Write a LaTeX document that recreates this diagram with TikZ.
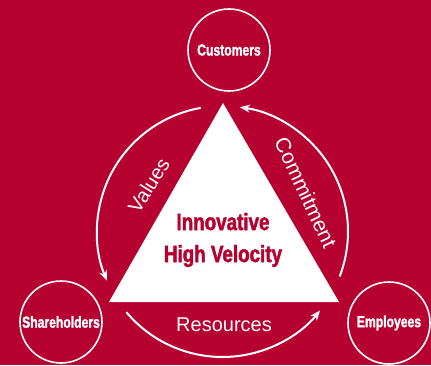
\documentclass[tikz,border=0pt]{standalone}
\usepackage{fontspec}
\setmainfont{Liberation Sans}
\newfontfamily\condfont[FakeStretch=0.76,FakeBold=1.5]{Liberation Sans Bold}
\newfontfamily\corefont[FakeStretch=0.8,FakeBold=2]{Liberation Sans Bold}
\usetikzlibrary{arrows.meta,calc}
\definecolor{crimson}{HTML}{B50030}
\tikzset{
  party/.style={draw=white, line width=1.6pt, circle, minimum size=82pt, inner sep=0pt,
    text=white, font=\condfont\fontsize{16}{18}\selectfont},
  flow/.style={white, line width=2pt, -{Stealth[length=10pt,width=8pt]}},
  flowlabel/.style={text=white, font=\fontsize{20}{22}\selectfont, inner sep=0pt}
}
\begin{document}
\begin{tikzpicture}[x=1pt,y=1pt]
% Fondo
\fill[crimson] (0,0) rectangle (431,365);
\useasboundingbox (0,0) rectangle (431,365);
% Triangulo
\fill[white] (223,262) -- (339,63) -- (109,63) -- cycle;
\node[text=crimson, font=\corefont\fontsize{23.5}{32}\selectfont, align=center] (core) at (223,125)
  {Innovative\\High Velocity};
% Grupos
\node[party] (customers) at (229,315) {Customers};
\node[party] (shareholders) at (61,43) {Shareholders};
\node[party] (employees) at (389,42) {Employees};
% Flechas circulares
\coordinate (hub) at (222.5,133.5);
\draw[flow] (hub) ++(100:125.5) arc[start angle=100, end angle=203, radius=125.5];
\draw[flow] (hub) ++(-21:125.5) arc[start angle=-21, end angle=82, radius=125.5];
\draw[flow] (hub) ++(220:125.5) arc[start angle=220, end angle=321, radius=125.5];
% Etiquetas
\node[flowlabel, rotate=58] (values) at ($(hub)+(148:87)$) {Values};
\node[flowlabel, rotate=-65, font=\fontsize{21}{23}\selectfont] (commitment) at ($(hub)+(25:92)$) {Commitment};
\node[flowlabel, anchor=base] (resources) at (224,34) {Resources};
\end{tikzpicture}
\end{document}
